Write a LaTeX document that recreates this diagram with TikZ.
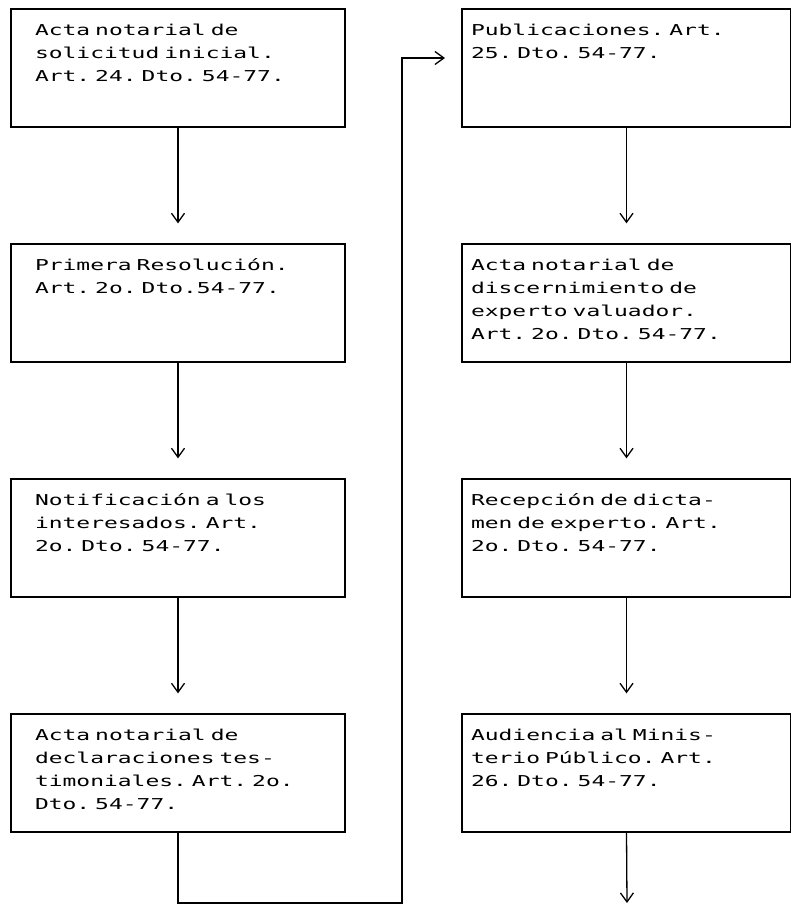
\documentclass[tikz,border=0pt]{standalone}
\usepackage{fontspec}
\setmonofont[FakeStretch=1.53]{DejaVu Sans Mono}
\usetikzlibrary{positioning,arrows.meta}

\newcommand{\stagefont}{\ttfamily\fontsize{15}{23}\selectfont\frenchspacing}

\tikzstyle{tramite} = [rectangle, draw, line width=1.3pt, align=left,
    font=\stagefont, text height=26pt, text depth=92pt, inner ysep=0pt]
\tikzstyle{leftstage} = [tramite, text width=286pt, inner xsep=24pt]
\tikzstyle{rightstage} = [tramite, text width=311pt, inner xsep=9pt]
\tikzstyle{line} = [draw, line width=1.3pt, -{Straight Barb[length=9pt,width=13pt]}]

\begin{document}
\begin{tikzpicture}[x=1pt,y=-1pt]
    \useasboundingbox (0,0) rectangle (790,905);

    \node[leftstage](Solicitud) at (178,68){Acta notarial de\\
        solicitud inicial.\\ Art. 24. Dto. 54-77.};
    \node[leftstage, below of=Solicitud, node distance=235pt]
            (Resolucion){Primera Resolución.\\ Art. 2o. Dto.54-77.};
    \node[leftstage, below of=Resolucion, node distance=235pt]
            (Notificacion){Notificación a los\\ interesados. Art.\\
            2o. Dto. 54-77.};
    \node[leftstage, below of=Notificacion, node distance=235pt]
            (Declaraciones){Acta notarial de\\ declaraciones tes-\\
            timoniales. Art. 2o.\\ Dto. 54-77.};

    \node[rightstage, right of=Solicitud, node distance=448.5pt]
            (Publicaciones){Publicaciones. Art.\\ 25. Dto. 54-77.};
    \node[rightstage, below of=Publicaciones, node distance=235pt]
            (Discernimiento){Acta notarial de\\ discernimiento de\\
            experto valuador.\\ Art. 2o. Dto. 54-77.};
    \node[rightstage, below of=Discernimiento, node distance=235pt]
            (Dictamen){Recepción de dicta-\\ men de experto. Art.\\
            2o. Dto. 54-77.};
    \node[rightstage, below of=Dictamen, node distance=235pt]
            (Audiencia){Audiencia al Minis-\\ terio Público. Art.\\
            26. Dto. 54-77.};

    \coordinate (codo) at (402,903);
    \coordinate (entrada) at (445,58);
    \coordinate (salida) at (627,903);

    \path[line, shorten >=20pt](Solicitud) -- (Resolucion);
    \path[line, shorten >=20pt](Resolucion) -- (Notificacion);
    \path[line, shorten >=20pt](Notificacion) -- (Declaraciones);
    \path[line](Declaraciones.south) |- (codo) |- (entrada);

    \path[line, shorten >=20pt](Publicaciones) -- (Discernimiento);
    \path[line, shorten >=20pt](Discernimiento) -- (Dictamen);
    \path[line, shorten >=20pt](Dictamen) -- (Audiencia);
    \path[line](Audiencia.south) -- (salida);
\end{tikzpicture}
\end{document}
